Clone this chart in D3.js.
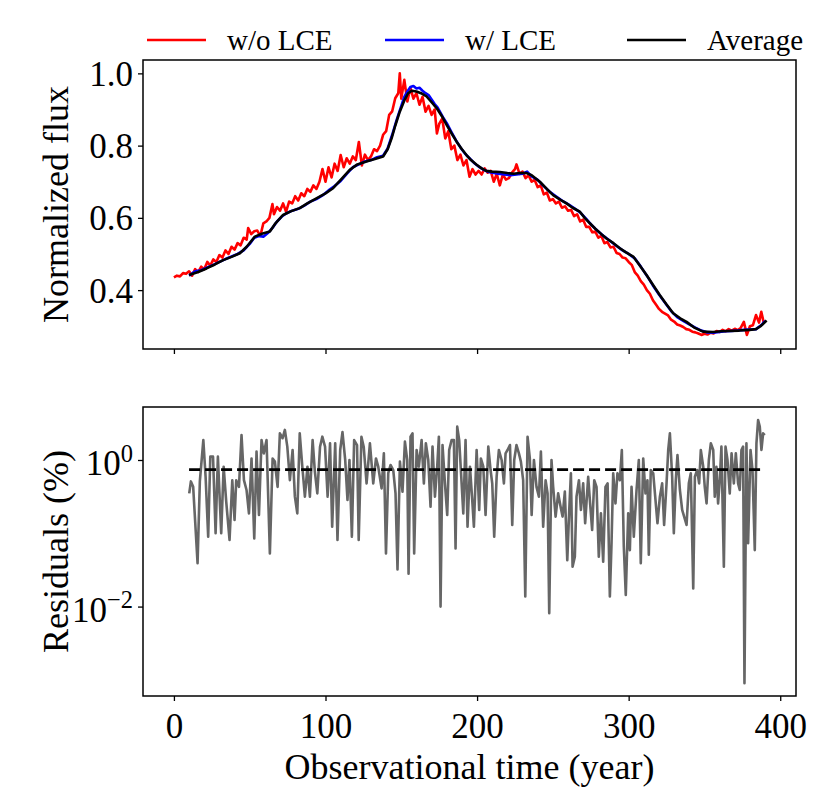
<!DOCTYPE html>
<html><head><meta charset="utf-8">
<script src="https://cdn.jsdelivr.net/npm/d3@7"></script>
<style>
body{margin:0;background:#fff;}
svg{display:block;}
text{font-family:"Liberation Serif","DejaVu Serif",serif;fill:#000;}
</style></head>
<body><div id="chart"></div>
<script>
// ---------- DATA ----------
const seriesNames = ["w/o LCE", "w/ LCE", "Average"];
const seriesColors = ["#ff0000", "#0000ff", "#000000"];

const redT = [0,2,4,6,8,10,12,14,16,18,20,22,24,26,28,30,32,34,36,38,40,42,44,46,48,49,51,53,55,57,59,61,63,65,66,68,70,72,74,76,78,80,82,84,86,88,90,92,94,96,98,100,102,104,106,108,110,112,114,116,118,120,122,124,126,128,130,132,134,136,138,140,142,144,146,148,149,150,152,154,156,158,160,162,164,166,168,170,172,173.5,175,177,179,181,183,185,187,189,191,193,195,197,199,201,203,205,207,209,211,213,215,217,219,221,223,225,226,228,230,232,234,236,238,240,242,244,246,248,250,252,254,256,258,260,262,264,266,268,270,272,274,276,278,280,282,284,286,288,290,292,294,296,298,300,302,304,306,308,310,312,314,316,318,320,322,324,326,328,330,332,334,336,338,340,342,344,346,348,350,352,354,356,358,360,362,364,366,368,370,372,374,376,378,380,382,384,386,387.5,389];
const redV = [0.435,0.44,0.438,0.447,0.445,0.452,0.44,0.458,0.45,0.465,0.458,0.478,0.468,0.485,0.478,0.497,0.49,0.51,0.5,0.52,0.512,0.53,0.524,0.545,0.54,0.572,0.555,0.563,0.565,0.55,0.585,0.59,0.6,0.638,0.61,0.63,0.62,0.64,0.617,0.645,0.64,0.66,0.648,0.668,0.66,0.68,0.672,0.69,0.68,0.7,0.735,0.7,0.74,0.712,0.75,0.73,0.774,0.74,0.765,0.75,0.77,0.76,0.81,0.745,0.775,0.76,0.77,0.79,0.785,0.8,0.83,0.84,0.885,0.895,0.931,0.945,1.0,0.93,0.982,0.922,0.96,0.93,0.945,0.913,0.935,0.894,0.91,0.885,0.9,0.834,0.86,0.875,0.82,0.84,0.79,0.8,0.76,0.775,0.745,0.76,0.714,0.735,0.72,0.73,0.72,0.737,0.725,0.73,0.7,0.722,0.69,0.72,0.706,0.71,0.725,0.735,0.748,0.722,0.728,0.71,0.718,0.7,0.705,0.685,0.69,0.665,0.67,0.648,0.652,0.64,0.645,0.628,0.632,0.62,0.622,0.605,0.61,0.59,0.595,0.575,0.575,0.56,0.562,0.545,0.55,0.53,0.533,0.518,0.52,0.503,0.5,0.49,0.488,0.478,0.47,0.45,0.44,0.425,0.415,0.4,0.39,0.372,0.36,0.348,0.34,0.335,0.33,0.318,0.313,0.305,0.302,0.298,0.292,0.29,0.285,0.283,0.28,0.276,0.279,0.277,0.282,0.28,0.287,0.284,0.29,0.286,0.292,0.288,0.293,0.289,0.296,0.312,0.276,0.3,0.303,0.331,0.31,0.34,0.312];

const blueT = [10,14,18,22,26,30,34,38,42,46,50,53,56,59,62,65,68,71,74,78,82,86,90,94,98,102,106,110,114,118,122,126,130,134,138,141,144,147,150,152,154,156,158,160,162,164,166,168,170,172,174,176,178,180,183,186,189,192,195,198,201,204,207,210,214,218,222,226,230,233,236,240,244,248,252,256,260,264,268,272,276,280,284,288,292,296,300,304,308,312,316,320,324,328,332,336,340,344,348,352,356,360,364,368,372,376,380,384,388,390];
const blueV = [0.44,0.452,0.455,0.463,0.47,0.478,0.486,0.493,0.5,0.51,0.528,0.545,0.55,0.548,0.558,0.572,0.59,0.603,0.612,0.62,0.625,0.634,0.645,0.652,0.662,0.676,0.688,0.702,0.722,0.74,0.748,0.756,0.76,0.768,0.772,0.792,0.83,0.872,0.91,0.935,0.95,0.962,0.965,0.958,0.96,0.952,0.945,0.94,0.928,0.915,0.905,0.89,0.875,0.862,0.838,0.815,0.795,0.778,0.765,0.752,0.742,0.734,0.728,0.725,0.722,0.72,0.718,0.72,0.722,0.728,0.715,0.705,0.688,0.672,0.66,0.648,0.638,0.627,0.615,0.597,0.578,0.562,0.548,0.535,0.522,0.51,0.5,0.488,0.465,0.44,0.413,0.388,0.365,0.342,0.325,0.315,0.305,0.296,0.288,0.283,0.282,0.284,0.286,0.287,0.288,0.29,0.291,0.292,0.305,0.315];

const avgT = [10,16,21.5,27,32.5,38,43.5,48,53.4,58,63.3,67,72,77,83,88,94,100,105,110,116,121,127,132,138,141,143.6,146,149,152,154.5,157,160,163,166.7,170,173.3,177,180,183,186.5,190,193,196,199.7,203,206,210,215,220,224,228,232.7,236,241.4,246,250.2,255,259,263,267.8,271,274.4,278,282,285.4,290,294.2,298,303,307,311.8,316,320.6,325,329.4,334,338.2,343,349,355.7,361,366.6,373,379.8,384,387,391];
const avgV = [0.442,0.45,0.46,0.471,0.483,0.492,0.502,0.52,0.548,0.556,0.562,0.585,0.608,0.618,0.627,0.64,0.654,0.668,0.682,0.705,0.733,0.748,0.756,0.762,0.77,0.79,0.82,0.855,0.894,0.925,0.945,0.952,0.95,0.945,0.936,0.92,0.904,0.88,0.857,0.835,0.811,0.79,0.774,0.76,0.747,0.737,0.73,0.728,0.727,0.724,0.722,0.724,0.724,0.718,0.7,0.68,0.663,0.65,0.64,0.628,0.617,0.6,0.585,0.57,0.555,0.543,0.53,0.516,0.505,0.493,0.47,0.442,0.415,0.386,0.36,0.336,0.322,0.312,0.297,0.285,0.284,0.286,0.287,0.288,0.29,0.292,0.3,0.316];

const resT = [10.1,11.2,12.7,15.6,17.1,19.4,20.9,22.6,24,25.8,27.5,29,31.2,32.8,34.5,36.7,38.5,40,41.1,42.9,44.6,46.2,47.9,49.5,51.2,53,54.5,56.1,57.8,59.3,61.1,63.3,65.1,66.6,68.4,69.9,71.7,73.2,74.8,76.5,78.3,79.8,81.4,83,84.7,86.4,88.1,89.7,91.5,93,94.6,96.4,97.9,99.7,101.4,103,104.4,106.4,107.9,109.7,111.2,113,114.5,115.8,117.4,118.9,120.8,121.9,123.7,125.2,127.1,129.3,131.5,133.3,134.8,137,138.5,139.9,141.4,142.9,144.7,146.2,147.5,149.1,150.8,152.4,153.9,154.8,156.1,157.4,158.5,160.1,161.6,163.4,164.9,166.2,167.8,169.3,170.6,172.2,173.7,174.8,175.9,177.2,178.8,180.3,181.6,183.2,184.7,185.8,186.9,188.2,189.8,190.9,192.4,193.7,195.3,196.8,197.9,199.7,201.4,202.5,204.1,205.6,207.4,208.9,210,211.3,212.9,214.4,216.2,217.7,218.8,220.1,221.7,223.2,224.5,226,227.6,228.9,230.4,231.8,233.3,234.8,236,237.5,239.2,240.8,242.1,243.6,245.2,246.5,247.6,249.1,250.2,251.8,253.5,255.1,256.4,257.9,259.5,260.8,261.9,263,264.5,265.6,267.2,268.5,270,271.3,273.3,274.4,275.9,277.3,278.8,280.3,281.7,283.2,284.7,286.1,287.6,288.7,289.8,291.3,292.6,294.2,295.5,296.8,298.1,299.7,300.8,301.9,303.4,305.2,306.7,308,309.6,311.1,312.4,313.3,314.6,316.2,317.7,319,320.6,322.1,323.4,325,326.1,327.2,328.7,329.8,331.1,332.2,333.8,335.3,336.6,338.2,339.7,341,342.6,343.7,345.2,346.5,347.6,349.2,350.2,351.4,352.9,354.2,355.8,356.8,357.9,359,360.1,361.2,362.8,363.9,365.2,366.7,367.9,369.4,370.7,372.2,373.3,374.4,375.5,376.4,377.7,378.8,380.4,381.7,383.2,384.3,385.4,386.5,387.6,388.7,389.8];
const resV = [0.35,0.51,0.43,0.039,0.51,1.87,0.59,0.09,1.11,1.11,0.1,1.11,0.1,0.81,0.27,0.081,0.53,0.152,0.53,0.43,2.19,0.53,0.39,0.187,1.05,0.085,1.3,0.178,1.87,1.23,1.87,0.053,1.05,0.95,0.43,2.31,1.98,2.57,1.52,0.53,1.37,0.316,0.187,2.31,0.81,0.316,0.81,0.316,1.87,0.69,0.35,1.52,2.08,1.52,0.316,1.69,0.123,1.69,0.081,1.37,2.4,1.0,0.285,1.0,0.09,1.87,1.6,0.081,2.08,1.52,0.48,1.69,0.48,1.05,0.81,0.41,1.23,0.053,0.66,0.855,0.73,0.35,0.032,0.95,0.37,1.78,1.0,0.028,2.08,2.31,0.053,1.37,0.81,1.87,0.48,1.69,1.0,0.23,1.52,0.316,0.81,2.08,0.01,1.6,0.48,0.178,1.37,1.87,1.87,0.062,2.85,1.87,0.48,0.187,1.87,0.123,0.81,0.285,0.123,1.37,0.208,1.05,0.81,0.178,1.52,0.73,0.48,0.09,0.59,1.37,1.0,0.48,1.23,1.37,1.6,0.13,1.0,1.6,1.23,0.95,0.53,0.0137,2.08,1.05,0.178,1.0,0.43,0.316,1.3,0.123,0.53,0.35,0.0081,1.0,0.43,0.169,0.35,0.23,0.169,0.37,0.043,0.208,0.66,0.035,0.048,0.316,0.53,0.208,0.48,0.137,0.59,0.285,0.111,0.53,0.43,0.048,0.187,0.041,0.43,0.48,0.0137,0.073,0.66,0.256,0.66,0.53,1.37,0.066,0.0144,0.187,0.059,0.43,0.09,0.39,1.0,0.039,1.05,0.35,0.53,0.051,0.73,0.66,0.285,0.137,0.316,0.48,0.13,0.48,1.37,2.31,0.59,0.1,0.53,1.17,0.39,0.208,0.169,0.13,0.48,0.66,0.0177,0.59,0.73,0.48,1.37,0.81,0.43,0.256,1.0,1.69,1.37,0.316,0.81,0.256,0.53,1.52,0.035,1.52,1.0,0.35,1.23,0.48,1.23,0.48,0.39,1.37,1.52,0.0009,1.69,0.073,1.37,0.73,0.059,1.69,3.51,2.85,1.37,2.31,2.19];

const meanResT = [10, 387];
const meanResV = [0.74, 0.74];

const xTicks = [0, 100, 200, 300, 400];
const fluxTicks = [0.4, 0.6, 0.8, 1.0];
const resTicks = [1, 0.01];
const xLabel = "Observational time (year)";
const yLabelTop = "Normalized flux";
const yLabelBottom = "Residuals (%)";

// ---------- CHART ----------
const W = 831, H = 805;
const L = 143, R = 796;
const topY0 = 60, topY1 = 349;
const botY0 = 407, botY1 = 696;
const FS = 35;      // tick labels
const FL = 36;      // axis labels
const FLEG = 29;    // legend

const svg = d3.select("#chart").append("svg").attr("width", W).attr("height", H);

const x = d3.scaleLinear().domain([-20.4, 410.4]).range([L, R]);
const yTop = d3.scaleLinear().domain([0.237, 1.037]).range([topY1, topY0]);
const yBot = d3.scaleLog().domain([Math.pow(10, -3.22), Math.pow(10, 0.723)]).range([botY1, botY0]);

const zip = (ts, vs) => ts.map((t, i) => [t, vs[i]]);

function drawLine(g, data, ys, color, width, dash) {
  const line = d3.line().x(d => x(d[0])).y(d => ys(d[1]));
  const p = g.append("path").datum(data).attr("d", line)
    .attr("fill", "none").attr("stroke", color).attr("stroke-width", width)
    .attr("stroke-linejoin", "round").attr("stroke-linecap", "butt");
  if (dash) p.attr("stroke-dasharray", dash);
}

function styleAxis(g) {
  g.attr("font-size", FS).attr("font-family", "Liberation Serif, DejaVu Serif, serif");
  g.select(".domain").remove();
  g.selectAll(".tick line").attr("stroke", "#000").attr("stroke-width", 1.3);
  g.selectAll(".tick text").attr("font-size", FS);
}

// Top panel
const gTop = svg.append("g");
gTop.append("defs").append("clipPath").attr("id", "clipTop")
  .append("rect").attr("x", L).attr("y", topY0).attr("width", R - L).attr("height", topY1 - topY0);
const topLines = gTop.append("g").attr("clip-path", "url(#clipTop)");
drawLine(topLines, zip(redT, redV), yTop, seriesColors[0], 2.6);
drawLine(topLines, zip(blueT, blueV), yTop, seriesColors[1], 2.6);
drawLine(topLines, zip(avgT, avgV), yTop, seriesColors[2], 2.6);

const axTopX = gTop.append("g").attr("transform", `translate(0,${topY1})`)
  .call(d3.axisBottom(x).tickValues(xTicks).tickSize(5).tickFormat(""));
styleAxis(axTopX);
const axTopY = gTop.append("g").attr("transform", `translate(${L},0)`)
  .call(d3.axisLeft(yTop).tickValues(fluxTicks).tickSize(5).tickPadding(5).tickFormat(d3.format(".1f")));
styleAxis(axTopY);
axTopY.selectAll(".tick text").attr("dy", "0.34em");
gTop.append("rect").attr("x", L).attr("y", topY0).attr("width", R - L).attr("height", topY1 - topY0)
  .attr("fill", "none").attr("stroke", "#000").attr("stroke-width", 1.5);

// Bottom panel
const gBot = svg.append("g");
gBot.append("defs").append("clipPath").attr("id", "clipBot")
  .append("rect").attr("x", L).attr("y", botY0).attr("width", R - L).attr("height", botY1 - botY0);
const botLines = gBot.append("g").attr("clip-path", "url(#clipBot)");
drawLine(botLines, zip(resT, resV), yBot, "#666666", 2.6);
drawLine(botLines, zip(meanResT, meanResV), yBot, "#000000", 2.8, "11,5");

const axBotX = gBot.append("g").attr("transform", `translate(0,${botY1})`)
  .call(d3.axisBottom(x).tickValues(xTicks).tickSize(5).tickPadding(12).tickFormat(d3.format("d")));
styleAxis(axBotX);
const axBotY = gBot.append("g").attr("transform", `translate(${L},0)`)
  .call(d3.axisLeft(yBot).tickValues(resTicks).tickSize(5).tickPadding(5).tickFormat(""));
styleAxis(axBotY);
axBotY.selectAll(".tick").each(function(d) {
  const e = Math.round(Math.log10(d));
  const t = d3.select(this).select("text").attr("dy", "0.42em").attr("x", -10);
  t.text(null);
  t.append("tspan").text("10");
  t.append("tspan").attr("dy", "-0.55em").attr("font-size", FS * 0.7).text(e < 0 ? "\u2212" + (-e) : String(e));
});
gBot.append("rect").attr("x", L).attr("y", botY0).attr("width", R - L).attr("height", botY1 - botY0)
  .attr("fill", "none").attr("stroke", "#000").attr("stroke-width", 1.5);

// Axis labels
svg.append("text").attr("x", (L + R) / 2).attr("y", 779).attr("text-anchor", "middle")
  .attr("font-size", FL).text(xLabel);
svg.append("text").attr("transform", `translate(68,${(topY0 + topY1) / 2}) rotate(-90)`)
  .attr("text-anchor", "middle").attr("font-size", FL).text(yLabelTop);
svg.append("text").attr("transform", `translate(68,${(botY0 + botY1) / 2}) rotate(-90)`)
  .attr("text-anchor", "middle").attr("font-size", FL).text(yLabelBottom);

// Legend
const legendX = [147, 385, 627];
const leg = svg.append("g");
seriesNames.forEach((name, i) => {
  leg.append("line").attr("x1", legendX[i]).attr("x2", legendX[i] + 59)
    .attr("y1", 40).attr("y2", 40).attr("stroke", seriesColors[i]).attr("stroke-width", 2.6);
  leg.append("text").attr("x", legendX[i] + 80).attr("y", 50).attr("font-size", FLEG).text(name);
});
</script></body></html>
